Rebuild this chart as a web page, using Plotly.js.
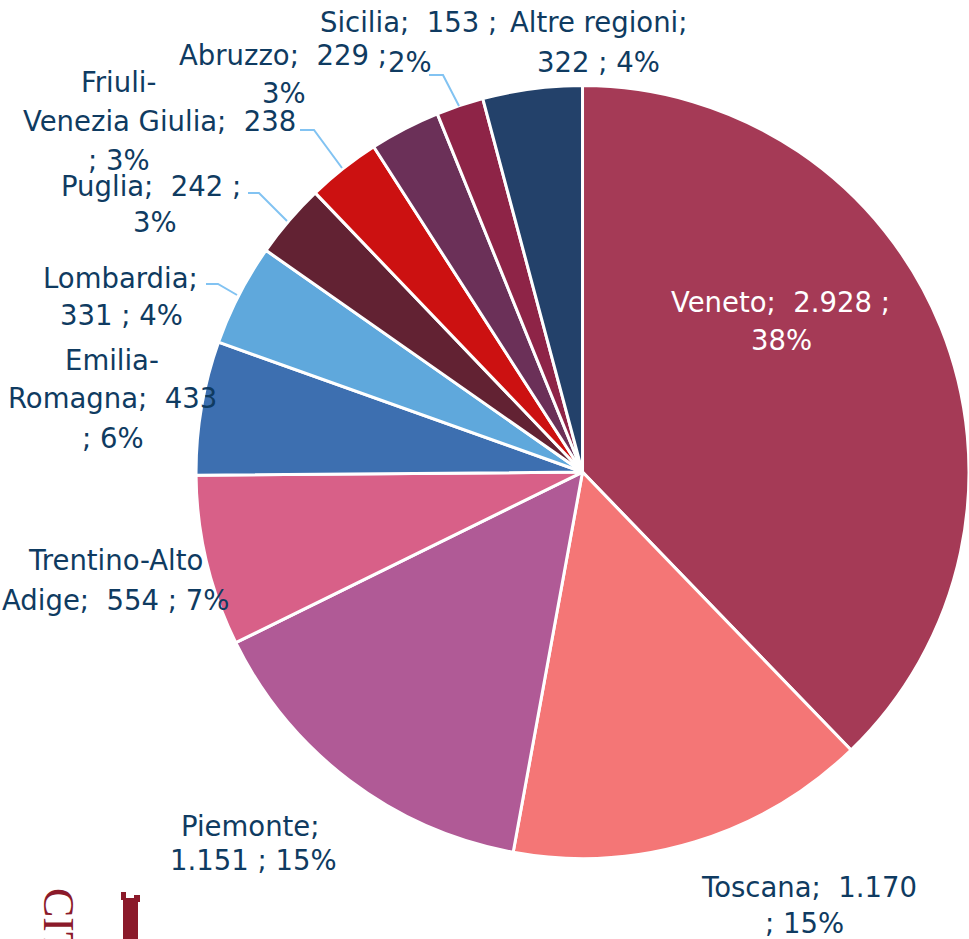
<!DOCTYPE html>
<html>
<head>
<meta charset="utf-8">
<script src="https://cdn.plot.ly/plotly-3.0.1.min.js"></script>
<style>html,body{margin:0;padding:0;background:#fff;}#chart{width:969px;height:939px;}</style>
</head>
<body>
<div id="chart"></div>
<script>
// ---- data ----
const regions = ['Veneto','Toscana','Piemonte','Trentino-Alto Adige','Emilia-Romagna','Lombardia','Puglia','Friuli-Venezia Giulia','Abruzzo','Sicilia','Altre regioni'];
const values = [2928, 1170, 1151, 554, 433, 331, 242, 238, 229, 153, 322];
const colors = ['#a53a56','#f47676','#b05a96','#d86088','#3d6fb0','#5fa8dc','#622233','#cc1111','#6b3058','#8e2447','#23416a'];

// ---- label layout (line templates and pixel positions of each line) ----
const S = '\u00a0 ';
const labelLines = [
  ['{n};'+S+'{v} ;', '{p}'],
  ['{n};'+S+'{v}', '; {p}'],
  ['{n};', '{v} ; {p}'],
  ['{w0}', '{w1};'+S+'{v} ; {p}'],
  ['{h0}', '{h1};'+S+'{v}', '; {p}'],
  ['{n};', '{v} ; {p}'],
  ['{n};'+S+'{v} ;', '{p}'],
  ['{h0}', '{h1};'+S+'{v}', '; {p}'],
  ['{n};'+S+'{v} ;', '{p}'],
  ['{n};'+S+'{v} ;', '{p}'],
  ['{n};', '{v} ; {p}']
];
const labelPos = [
  [[780,302],[781,340]],
  [[809,887],[804,923]],
  [[250,826],[253,860]],
  [[115,560],[115,600]],
  [[112,360],[112,398],[113,438]],
  [[120,278],[121,315]],
  [[151,186],[155,222]],
  [[118,82],[159,121],[119,160]],
  [[283,55],[284,93]],
  [[408,22],[410,62]],
  [[598,22],[598,62]]
];
const leaders = [
  [[429,75],[443,75],[459,106]],
  [[300,130],[314,130],[342,168]],
  [[248,193],[259,193],[287,221]],
  [[206,284],[218,284],[237,295]]
];

const W = 969, H = 939;
const px = x => x / W, py = y => 1 - y / H;
const total = values.reduce((a,b)=>a+b,0);
const fmt = v => String(v).replace(/\B(?=(\d{3})+(?!\d))/g, '.');

const annotations = [];
regions.forEach((name, i) => {
  const hy = name.indexOf('-');
  const h0 = hy >= 0 ? name.slice(0, hy+1) : name;
  const h1 = hy >= 0 ? name.slice(hy+1) : '';
  const sp = name.indexOf(' ');
  const w0 = sp >= 0 ? name.slice(0, sp) : name;
  const w1 = sp >= 0 ? name.slice(sp+1) : '';
  const p = Math.round(values[i] / total * 100) + '%';
  labelLines[i].forEach((t, j) => {
    const txt = t.replace('{n}', name).replace('{v}', fmt(values[i])).replace('{p}', p)
                 .replace('{h0}', h0).replace('{h1}', h1).replace('{w0}', w0).replace('{w1}', w1);
    const [cx, cy] = labelPos[i][j];
    annotations.push({
      text: txt, x: px(cx), y: py(cy), xref: 'paper', yref: 'paper',
      xanchor: 'center', yanchor: 'middle', showarrow: false,
      font: {family: 'DejaVu Sans, sans-serif', size: 27.5, color: i === 0 ? '#ffffff' : '#0f3b61'}
    });
  });
});

// logo fragment
annotations.push({
  text: 'CITTÀ', textangle: 90, x: px(59), y: py(886), xref: 'paper', yref: 'paper',
  xanchor: 'center', yanchor: 'top', showarrow: false,
  font: {family: 'Liberation Serif, serif', size: 44, color: '#8b1a2a'}
});

const shapes = leaders.map(pts => ({
  type: 'path', xref: 'paper', yref: 'paper',
  path: 'M ' + pts.map(q => px(q[0]) + ',' + py(q[1])).join(' L '),
  line: {color: '#82c3f2', width: 2}
}));
shapes.push({type: 'rect', xref: 'paper', yref: 'paper', x0: px(123), x1: px(138), y0: py(939), y1: py(898), fillcolor: '#8b1a2a', line: {width: 0}});
shapes.push({type: 'rect', xref: 'paper', yref: 'paper', x0: px(121), x1: px(126), y0: py(900), y1: py(892), fillcolor: '#8b1a2a', line: {width: 0}});
shapes.push({type: 'rect', xref: 'paper', yref: 'paper', x0: px(134), x1: px(140), y0: py(902), y1: py(895), fillcolor: '#8b1a2a', line: {width: 0}});

const trace = {
  type: 'pie', labels: regions, values: values, sort: false, direction: 'clockwise', rotation: 0,
  marker: {colors: colors, line: {color: '#ffffff', width: 3}},
  textinfo: 'none', hoverinfo: 'label+value+percent',
  domain: {x: [0.2023, 1.0], y: [0.0857, 0.9089]}
};

Plotly.newPlot('chart', [trace], {
  width: W, height: H, margin: {l:0, r:0, t:0, b:0},
  paper_bgcolor: '#ffffff', showlegend: false,
  annotations: annotations, shapes: shapes
}, {displayModeBar: false, staticPlot: true});
</script>
</body>
</html>
